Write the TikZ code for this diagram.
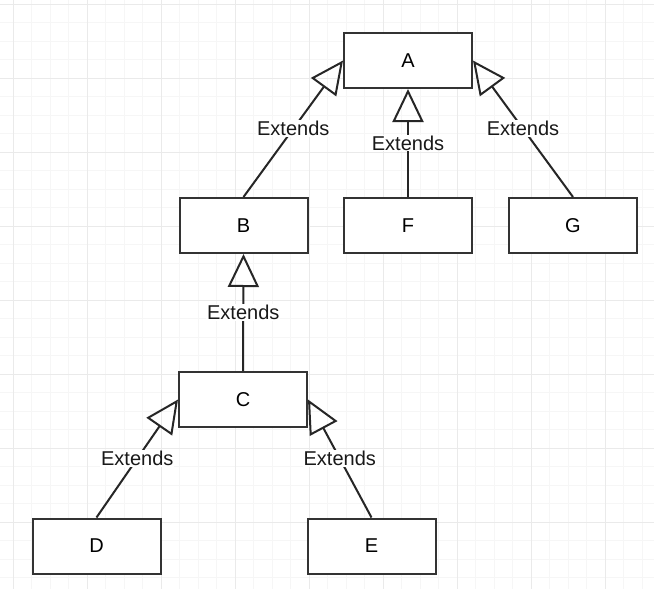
\documentclass[tikz,border=0pt]{standalone}
\usepackage{fontspec}
\setmainfont{Liberation Sans}
\usetikzlibrary{arrows.meta}
\begin{document}
\begin{tikzpicture}[x=1pt,y=-1pt,
  box/.style={draw=black!80, line width=2pt, fill=white, minimum width=128pt, minimum height=55pt, inner sep=0pt, font=\fontsize{20}{24}\selectfont},
  ext/.style={draw=black!85, line width=2pt, -{Triangle[open, length=33pt, width=31pt]}},
  lbl/.style={fill=white, inner sep=1pt, font=\fontsize{20}{22}\selectfont, text=black!90},
  gridminor/.style={draw={rgb,255:red,246;green,246;blue,246}, line width=1pt},
  gridmajor/.style={draw={rgb,255:red,234;green,234;blue,234}, line width=1pt}]
\useasboundingbox (0,0) rectangle (654,589);
\fill[white] (0,0) rectangle (654,589);
\begin{scope}
\clip (0,0) rectangle (654,589);
\foreach \k in {-1,...,36} {
  \draw[gridminor] ({13+18.5*\k},0) -- ({13+18.5*\k},589);
  \draw[gridminor] (0,{4+18.5*\k}) -- (654,{4+18.5*\k});
}
\foreach \k in {-1,...,9} {
  \draw[gridmajor] ({13+74*\k},0) -- ({13+74*\k},589);
  \draw[gridmajor] (0,{4+74*\k}) -- (654,{4+74*\k});
}
\end{scope}
\node[box] (A) at (408,60.5) {A};
\node[box] (B) at (243.5,225.5) {B};
\node[box] (F) at (408,225.5) {F};
\node[box] (G) at (573,225.5) {G};
\node[box] (C) at (243,399.5) {C};
\node[box] (D) at (96.5,546) {D};
\node[box] (E) at (371.5,546) {E};
\draw[ext] (B.north) -- node[lbl] {Extends} (A.west);
\draw[ext] (F.north) -- node[lbl] {Extends} (A.south);
\draw[ext] (G.north) -- node[lbl] {Extends} (A.east);
\draw[ext] (C.north) -- node[lbl] {Extends} (B.south);
\draw[ext] (D.north) -- node[lbl] {Extends} (C.west);
\draw[ext] (E.north) -- node[lbl] {Extends} (C.east);
\end{tikzpicture}
\end{document}
